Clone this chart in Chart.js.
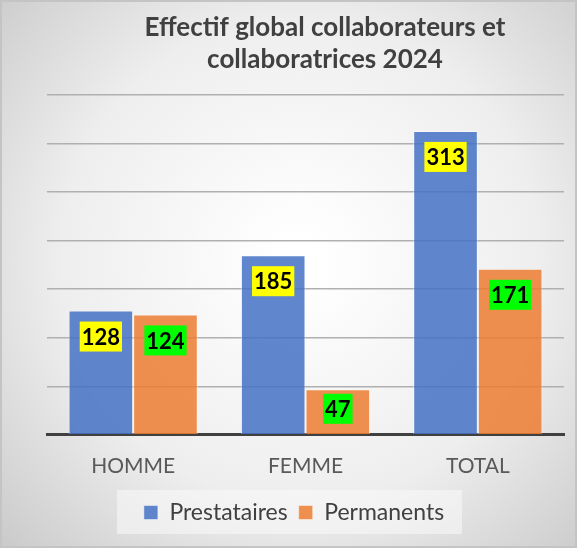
<!DOCTYPE html>
<html>
<head>
<meta charset="utf-8">
<script src="https://cdn.jsdelivr.net/npm/chart.js@4/dist/chart.umd.min.js"></script>
<style>
  html, body { margin: 0; padding: 0; background: #ffffff; }
  #wrap { width: 577px; height: 548px; position: relative; }
</style>
</head>
<body>
<div id="wrap"><canvas id="effectifChart" width="577" height="548"></canvas></div>
<script>
const categories = ["HOMME", "FEMME", "TOTAL"];
const prestataires = [128, 185, 313];
const permanents = [124, 47, 171];
const titleLines = ["Effectif global collaborateurs et", "collaboratrices 2024"];

const FONT = "Lato, 'Open Sans', sans-serif";

// fond gris en dégradé + cadre
const backgroundPlugin = {
  id: "background",
  beforeDraw(chart) {
    const ctx = chart.ctx;
    const w = chart.width, h = chart.height;
    ctx.save();
    const g = ctx.createRadialGradient(300, 260, 20, 300, 260, 420);
    g.addColorStop(0, "#ffffff");
    g.addColorStop(0.55, "#eeeeee");
    g.addColorStop(1, "#c9c9c9");
    ctx.fillStyle = g;
    ctx.fillRect(0, 0, w, h);
    ctx.strokeStyle = "#c4c4c4";
    ctx.lineWidth = 2;
    ctx.strokeRect(1, 1, w - 2, h - 2);

    // fond du bloc légende
    const lg = chart.legend;
    if (lg) {
      ctx.fillStyle = "rgba(250,250,250,0.55)";
      ctx.fillRect(117, lg.top, 345, lg.height);
    }
    ctx.restore();
  },
};

// titre sur deux lignes, centré comme dans Excel
const titlePlugin = {
  id: "titleLines",
  afterDraw(chart) {
    const ctx = chart.ctx;
    ctx.save();
    ctx.font = "bold 26px " + FONT;
    ctx.fillStyle = "#404040";
    ctx.textAlign = "center";
    ctx.textBaseline = "middle";
    ctx.fillText(titleLines[0], 325, 28);
    ctx.fillText(titleLines[1], 325, 60);
    ctx.restore();
  },
};

// étiquettes de valeur sur fond jaune / vert
const labelPlugin = {
  id: "valueLabels",
  afterDatasetsDraw(chart) {
    const ctx = chart.ctx;
    const base = chart.scales.y.getPixelForValue(0);
    const fills = ["#ffff00", "#00ff00"];
    ctx.save();
    ctx.font = "bold 22px " + FONT;
    ctx.textAlign = "center";
    ctx.textBaseline = "middle";
    chart.data.datasets.forEach((ds, i) => {
      chart.getDatasetMeta(i).data.forEach((bar, j) => {
        const txt = String(ds.data[j]);
        const tw = ctx.measureText(txt).width;
        const bh = 30;
        const top = Math.min(bar.y + 11, base - 11 - bh);
        ctx.fillStyle = fills[i];
        ctx.fillRect(bar.x - tw / 2 - 2, top, tw + 4, bh);
        ctx.fillStyle = "#000000";
        ctx.fillText(txt, bar.x, top + bh / 2 + 1);
      });
    });
    ctx.restore();
  },
};

new Chart(document.getElementById("effectifChart"), {
  type: "bar",
  data: {
    labels: categories,
    datasets: [
      {
        label: "Prestataires",
        data: prestataires,
        backgroundColor: "rgba(68, 114, 196, 0.85)",
        borderColor: "rgba(255, 255, 255, 0.45)",
        borderWidth: 1,
      },
      {
        label: "Permanents",
        data: permanents,
        backgroundColor: "rgba(237, 125, 49, 0.85)",
        borderColor: "rgba(255, 255, 255, 0.45)",
        borderWidth: 1,
      },
    ],
  },
  options: {
    responsive: false,
    animation: false,
    devicePixelRatio: 1,
    layout: { padding: { top: 95, left: 24, right: 13, bottom: 14 } },
    datasets: {
      bar: { categoryPercentage: 0.75, barPercentage: 1 },
    },
    plugins: {
      title: { display: false },
      tooltip: { enabled: false },
      legend: {
        position: "bottom",
        labels: {
          font: { family: FONT, size: 23 },
          color: "#404040",
          boxWidth: 14,
          boxHeight: 14,
          padding: 11,
        },
      },
    },
    scales: {
      x: {
        grid: { display: false },
        border: { color: "#404040", width: 3 },
        ticks: { font: { family: FONT, size: 21 }, color: "#595959", padding: 11 },
      },
      y: {
        min: 0,
        max: 350,
        afterFit(scale) { scale.width = 23; },
        ticks: { stepSize: 50, display: false },
        grid: { color: "#b0b0b0", lineWidth: 1.5, drawTicks: false },
        border: { display: false },
      },
    },
  },
  plugins: [backgroundPlugin, titlePlugin, labelPlugin],
});
</script>
</body>
</html>
